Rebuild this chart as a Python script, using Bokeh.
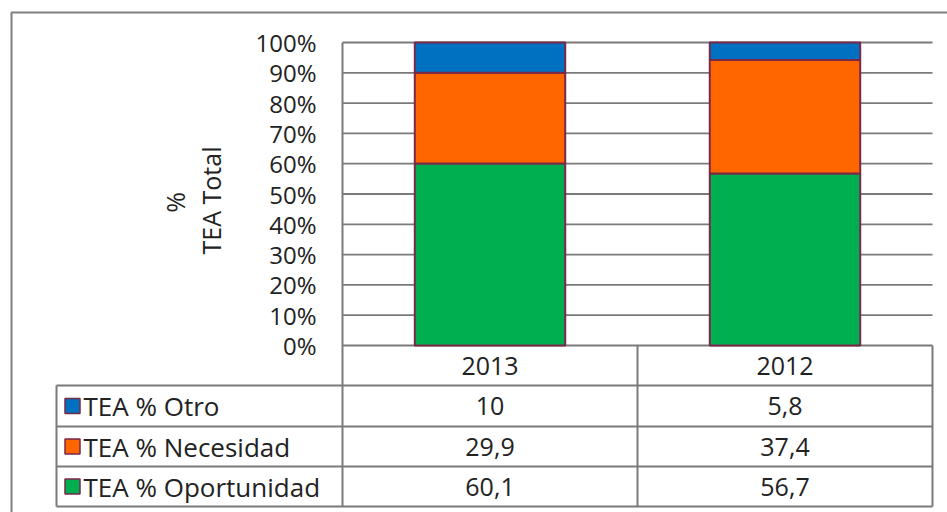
import math
from bokeh.plotting import figure
from bokeh.models import Range1d
from bokeh.core.properties import value
from bokeh.embed import file_html
from bokeh.resources import INLINE

# ---------------- data ----------------
years = ["2013", "2012"]
series_names = ["TEA % Otro", "TEA % Necesidad", "TEA % Oportunidad"]
otro = [10, 5.8]
necesidad = [29.9, 37.4]
oportunidad = [60.1, 56.7]
otro_labels = ["10", "5,8"]
necesidad_labels = ["29,9", "37,4"]
oportunidad_labels = ["60,1", "56,7"]
y_ticks = [0, 10, 20, 30, 40, 50, 60, 70, 80, 90, 100]
y_tick_labels = ["0%", "10%", "20%", "30%", "40%", "50%", "60%", "70%", "80%", "90%", "100%"]
y_title_lines = ["%", "TEA Total"]

# ---------------- style / layout ----------------
COL_OTRO = "#0070C0"
COL_NEC = "#FF6600"
COL_OPO = "#00B050"
EDGE = "#7A2848"
GRID = "#7A7A7A"
TXT = "#222222"
W, H, M = 947, 512, 0
PX_L, PX_R, PX_T, PX_B = 342, 932, 42, 345
KX = (PX_R - PX_L) / 2.0
KY = (PX_B - PX_T) / 100.0


def X(px):
    return (px - PX_L) / KX


def Y(py):
    return (PX_B - py) / KY


p = figure(width=W, height=H, output_backend="svg", toolbar_location=None,
           x_range=Range1d(X(M), X(M + W)), y_range=Range1d(Y(M + H), Y(M)),
           min_border=0, background_fill_color="white", border_fill_color="white")
p.axis.visible = False
p.grid.visible = False
p.outline_line_color = None

n = len(years)
xc = [i + 0.5 for i in range(n)]
tot = [a + b + c for a, b, c in zip(otro, necesidad, oportunidad)]
opo_s = [v / t * 100 for v, t in zip(oportunidad, tot)]
nec_s = [v / t * 100 for v, t in zip(necesidad, tot)]
otr_s = [v / t * 100 for v, t in zip(otro, tot)]

# outer chart frame
p.line(x=[X(11), X(11), X(980)], y=[Y(560), Y(12), Y(12)], line_color="#7F7F7F", line_width=2)

# gridlines
p.segment(x0=[0] * len(y_ticks), x1=[n] * len(y_ticks), y0=y_ticks, y1=y_ticks,
          line_color=GRID, line_width=1.8)
# tick labels
p.text(x=[X(316)] * len(y_ticks), y=y_ticks, text=y_tick_labels, text_align="right",
       text_baseline="middle", text_font=value("Open Sans"), text_font_size="24px", text_color=TXT)

# axis title
p.text(x=[X(174), X(210)], y=[Y(202), Y(200)], text=y_title_lines, angle=math.pi / 2,
       text_align="center", text_baseline="middle", text_font=value("Open Sans"),
       text_font_size="25px", text_color=TXT)

# stacked bars
bw = 0.51
b0 = [0] * n
b1 = opo_s
b2 = [a + b for a, b in zip(opo_s, nec_s)]
b3 = [a + b for a, b in zip(b2, otr_s)]
p.vbar(x=xc, width=bw, bottom=b0, top=b1, fill_color=COL_OPO, line_color=EDGE, line_width=2)
p.vbar(x=xc, width=bw, bottom=b1, top=b2, fill_color=COL_NEC, line_color=EDGE, line_width=2)
p.vbar(x=xc, width=bw, bottom=b2, top=b3, fill_color=COL_OTRO, line_color=EDGE, line_width=2)

# ---------------- data table ----------------
row_px = [345, 385, 426, 466, 506]
row_y = [Y(v) for v in row_px]
left_x = X(56)
p.segment(x0=[left_x] * 4, x1=[n] * 4, y0=row_y[1:], y1=row_y[1:], line_color=GRID, line_width=2)
vx = [0] + [i + 1 for i in range(n)]
p.segment(x0=vx, x1=vx, y0=[100 if v == 0 else row_y[0] for v in vx], y1=[row_y[-1]] * len(vx),
          line_color=GRID, line_width=2)
p.segment(x0=[left_x], x1=[left_x], y0=[row_y[1]], y1=[row_y[-1]], line_color=GRID, line_width=2)

tfont = value("Open Sans")
tsize = "25px"
lsize = "26px"
mid = [(row_y[i] + row_y[i + 1]) / 2 for i in range(4)]
p.text(x=xc, y=[mid[0]] * n, text=years, text_align="center", text_baseline="middle",
       text_font=tfont, text_font_size=tsize, text_color=TXT)
rows = [(series_names[0], COL_OTRO, otro_labels),
        (series_names[1], COL_NEC, necesidad_labels),
        (series_names[2], COL_OPO, oportunidad_labels)]
for k, (name, col, labels) in enumerate(rows):
    yy = mid[k + 1]
    p.scatter(x=[X(72)], y=[yy], marker="square", size=15, fill_color=col, line_color=EDGE, line_width=1.5)
    p.text(x=[X(83)], y=[yy], text=[name], text_align="left", text_baseline="middle",
           text_font=tfont, text_font_size=lsize, text_color=TXT)
    p.text(x=xc, y=[yy] * n, text=labels, text_align="center", text_baseline="middle",
           text_font=tfont, text_font_size=tsize, text_color=TXT)

open("out.html", "w").write(file_html(p, INLINE))
